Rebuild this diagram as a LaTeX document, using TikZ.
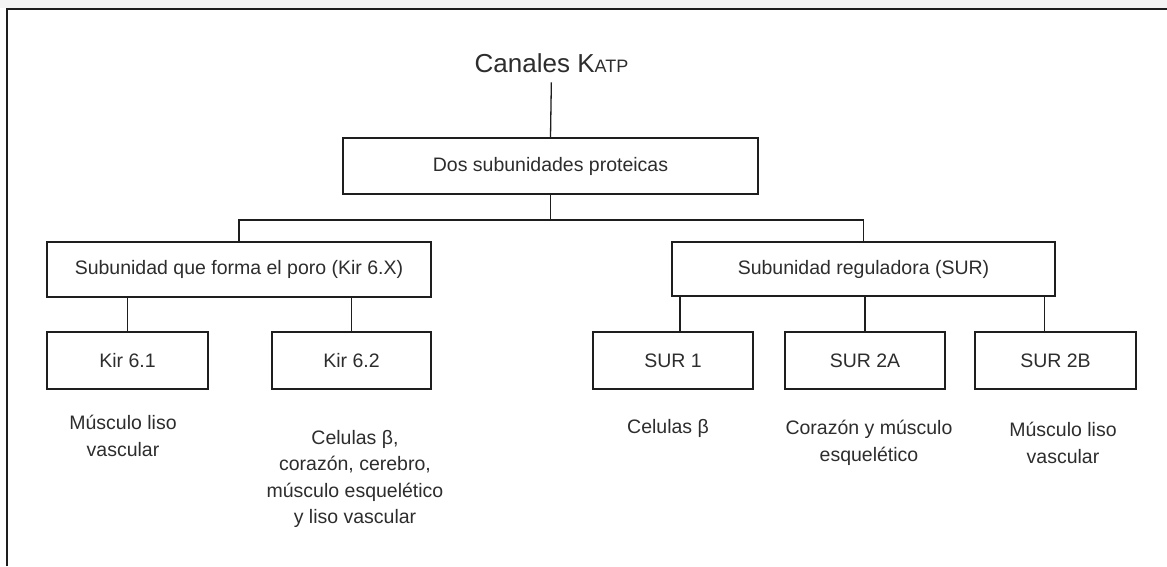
\documentclass[tikz,border=0pt]{standalone}
\usepackage{fontspec}
\setmainfont{Liberation Sans}
\usetikzlibrary{calc}
\definecolor{ink}{RGB}{30,30,30}
\definecolor{txt}{RGB}{45,45,45}
\definecolor{band}{RGB}{244,244,244}
\begin{document}
\begin{tikzpicture}[x=1pt,y=-1pt,
  box/.style={draw=ink,line width=2pt,inner sep=0pt,font=\fontsize{19.5}{24}\selectfont,text=txt},
  lbl/.style={align=center,inner sep=0pt,font=\fontsize{19.5}{26.5}\selectfont,text=txt},
  link/.style={draw=ink,line width=1.8pt}]
\useasboundingbox (0,0) rectangle (1167,566);
\fill[white] (0,0) rectangle (1167,566);
\fill[band] (0,0) rectangle (1167,8);
\draw[ink,line width=2.4pt] (7,566) -- (7,9) -- (1167,9);

% title
\node[anchor=base,inner sep=0pt,font=\fontsize{26}{30}\selectfont,text=txt] (canales) at (551.5,72)
  {Canales K{\fontsize{18}{22}\selectfont ATP}};

% boxes
\node[box,minimum width=415pt,minimum height=56pt] (dos) at (550.5,166) {Dos subunidades proteicas};
\node[box,minimum width=384pt,minimum height=55pt] (pore) at (239,269.5) {Subunidad que forma el poro (Kir 6.X)};
\node[box,minimum width=383pt,minimum height=54pt] (reg) at (863.5,269) {Subunidad reguladora (SUR)};
\node[box,minimum width=161pt,minimum height=57pt] (kir1) at (127.5,360.5) {Kir 6.1};
\node[box,minimum width=159pt,minimum height=57pt] (kir2) at (351.5,360.5) {Kir 6.2};
\node[box,minimum width=160pt,minimum height=57pt] (sur1) at (673,360.5) {SUR 1};
\node[box,minimum width=160pt,minimum height=57pt] (sur2a) at (865,360.5) {SUR 2A};
\node[box,minimum width=161pt,minimum height=57pt] (sur2b) at (1055.5,360.5) {SUR 2B};

% connectors
\draw[link,line width=1.3pt,shorten <=10pt] (canales.south) -- (dos.north);
\coordinate (j) at (550.5,220);
\draw[link] (dos.south) -- (j);
\draw[link] (pore.north) |- (j) -| (reg.north);
\draw[link] (kir1.north) -- (kir1.north |- pore.south);
\draw[link] (kir2.north) -- (kir2.north |- pore.south);
\draw[link] ([xshift=7pt]sur1.north) -- ([xshift=7pt]sur1.north |- reg.south);
\draw[link] (sur2a.north) -- (sur2a.north |- reg.south);
\draw[link] ([xshift=-11pt]sur2b.north) -- ([xshift=-11pt]sur2b.north |- reg.south);

% labels
\node[lbl] (t1) at (123,436) {Músculo liso\\vascular};
\node[lbl] (t2) at (355,479) {Celulas β,\\corazón, cerebro,\\músculo esquelético\\y liso vascular};
\node[lbl] (t3) at (668,428) {Celulas β};
\node[lbl] (t4) at (869,443) {Corazón y músculo\\esquelético};
\node[lbl] (t5) at (1063,443) {Músculo liso\\vascular};
\end{tikzpicture}
\end{document}
